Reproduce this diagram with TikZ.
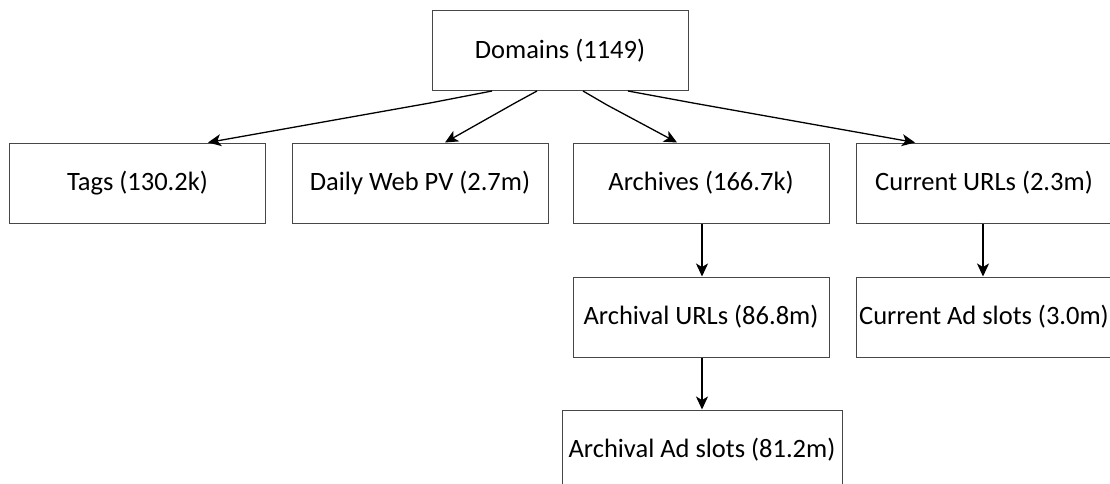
\documentclass[tikz,border=0pt]{standalone}
\usepackage{fontspec}
\setmainfont{Carlito}
\usetikzlibrary{arrows.meta}
\begin{document}
\begin{tikzpicture}[x=1pt,y=-1pt,
  box/.style={draw=black!72,line width=1pt,fill=white,minimum height=80pt,inner sep=0pt,font=\fontsize{26.5}{30}\selectfont,text=black},
  w256/.style={minimum width=256pt},
  link/.style={line width=1.3pt,draw=black,-{Stealth[length=13pt,width=12pt,inset=3.5pt]}}]
\useasboundingbox (0,0) rectangle (1110,484);
\node[box,w256] (dom) at (560,50.5) {Domains (1149)};
\node[box,w256] (tags) at (137.5,183) {Tags (130.2k)};
\node[box,w256] (daily) at (420,183) {Daily Web PV (2.7m)};
\node[box,w256] (arch) at (701,183) {Archives (166.7k)};
\node[box,w256] (cur) at (984,183) {Current URLs (2.3m)};
\node[box,w256] (aurl) at (701,317) {Archival URLs (86.8m)};
\node[box,w256] (cad) at (984,317) {Current Ad slots (3.0m)};
\node[box,minimum width=280pt] (aad) at (702,450) {Archival Ad slots (81.2m)};
\coordinate (k1) at (430,103);
\coordinate (k2) at (515,103);
\coordinate (k3) at (607,105);
\coordinate (k4) at (693,103);
\draw[link] (dom.south -| 492,0) -- (k1) -- (tags.north -| 208,0);
\draw[link] (dom.south -| 537,0) -- (k2) -- (daily.north -| 445,0);
\draw[link] (dom.south -| 583,0) -- (k3) -- (arch.north -| 677,0);
\draw[link] (dom.south -| 628,0) -- (k4) -- (cur.north -| 915,0);
\draw[link] (arch.south -| 702,0) -- (aurl.north -| 702,0);
\draw[link] (cur.south -| 983,0) -- (cad.north -| 983,0);
\draw[link] (aurl.south -| 702,0) -- (aad.north -| 702,0);
\end{tikzpicture}
\end{document}
